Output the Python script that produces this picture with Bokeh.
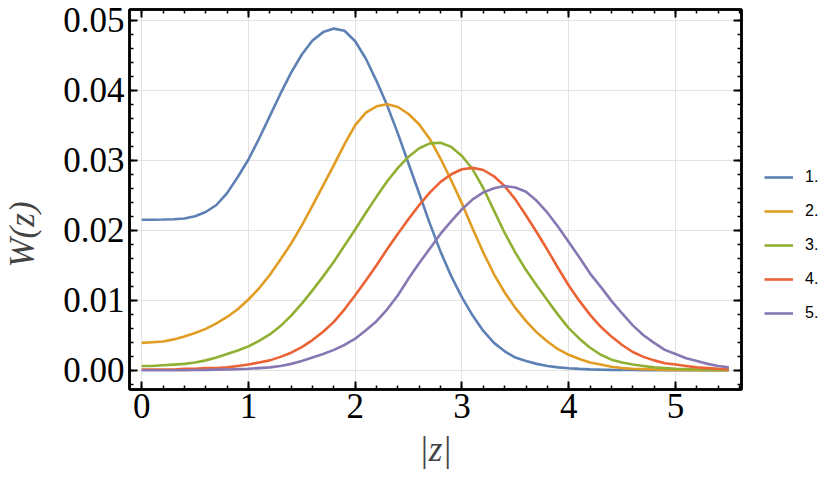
from bokeh.plotting import figure
from bokeh.models import Range1d, FixedTicker, LinearAxis, Legend, LegendItem, NumeralTickFormatter
from bokeh.layouts import row
from bokeh.embed import file_html
from bokeh.resources import INLINE

# sample positions |z| = 0.0 ... 5.5 (step 0.1)
z = [round(0.1 * i, 1) for i in range(56)]

w1 = [0.0215, 0.0215, 0.02152, 0.02157, 0.02168, 0.0220, 0.0226, 0.0236, 0.0253, 0.0276,
      0.0301, 0.0331, 0.0363, 0.0395, 0.0425, 0.0451, 0.0471, 0.0483, 0.0488, 0.0485,
      0.0470, 0.0445, 0.0413, 0.0378, 0.0338, 0.0295, 0.0252, 0.0209, 0.0169, 0.0134,
      0.0104, 0.0078, 0.0056, 0.0039, 0.0027, 0.0018, 0.0013, 0.0009, 0.0006, 0.0004,
      0.00028, 0.00019, 0.00012, 0.00008, 0.00005, 0.00003, 0.00002, 0.00001, 0.0, 0.0,
      0.0, 0.0, 0.0, 0.0, 0.0, 0.0]

w2 = [0.0039, 0.0040, 0.0041, 0.0044, 0.0048, 0.0053, 0.0059, 0.0067, 0.0076, 0.0087,
      0.0101, 0.0117, 0.0136, 0.0158, 0.0181, 0.0207, 0.0235, 0.0264, 0.0293, 0.0323,
      0.0350, 0.0368, 0.0377, 0.0380, 0.0376, 0.0366, 0.0351, 0.0330, 0.0302, 0.0271,
      0.0238, 0.0202, 0.0168, 0.0137, 0.0111, 0.0089, 0.0070, 0.0054, 0.0041, 0.0030,
      0.0022, 0.0016, 0.0011, 0.0008, 0.0005, 0.0003, 0.0002, 0.00015, 0.0001, 0.00005,
      0.00003, 0.00002, 0.00001, 0.0, 0.0, 0.0]

w3 = [0.0006, 0.0006, 0.0007, 0.0008, 0.0009, 0.0011, 0.0014, 0.0018, 0.0023, 0.0028,
      0.0034, 0.0042, 0.0051, 0.0063, 0.0078, 0.0095, 0.0114, 0.0134, 0.0155, 0.0178,
      0.0201, 0.0225, 0.0248, 0.0270, 0.0289, 0.0305, 0.0317, 0.0324, 0.0325, 0.0319,
      0.0306, 0.0287, 0.0260, 0.0228, 0.0196, 0.0168, 0.0143, 0.0121, 0.0100, 0.0079,
      0.0060, 0.0045, 0.0032, 0.0022, 0.0015, 0.0011, 0.0008, 0.0006, 0.0004, 0.0003,
      0.0002, 0.00015, 0.0001, 0.00007, 0.00005, 0.00003]

w4 = [0.0001, 0.0001, 0.0001, 0.0001, 0.0002, 0.0002, 0.0003, 0.0003, 0.0004, 0.0006,
      0.0008, 0.0011, 0.0014, 0.0019, 0.0025, 0.0033, 0.0043, 0.0055, 0.0069, 0.0087,
      0.0107, 0.0128, 0.0150, 0.0173, 0.0195, 0.0216, 0.0236, 0.0254, 0.0269, 0.0280,
      0.0287, 0.0289, 0.0286, 0.0277, 0.0263, 0.0244, 0.0221, 0.0197, 0.0172, 0.0146,
      0.0121, 0.0099, 0.0079, 0.0062, 0.0048, 0.0036, 0.0026, 0.0019, 0.0014, 0.0010,
      0.0008, 0.0006, 0.0004, 0.0003, 0.0002, 0.0001]

w5 = [0.0, 0.0, 0.0, 0.0, 0.0, 0.00003, 0.00005, 0.00008, 0.0001, 0.00015,
      0.0002, 0.0003, 0.0004, 0.0006, 0.0009, 0.0013, 0.0018, 0.0023, 0.0029, 0.0036,
      0.0045, 0.0057, 0.0070, 0.0087, 0.0107, 0.0131, 0.0153, 0.0174, 0.0195, 0.0213,
      0.0230, 0.0244, 0.0254, 0.0260, 0.0263, 0.0261, 0.0255, 0.0242, 0.0225, 0.0205,
      0.0183, 0.0161, 0.0138, 0.0119, 0.0099, 0.0081, 0.0064, 0.0050, 0.0039, 0.0029,
      0.0023, 0.0017, 0.0013, 0.0009, 0.0006, 0.0004]

series = [w1, w2, w3, w4, w5]
labels = ["1.", "2.", "3.", "4.", "5."]
colors = ["#5E81B5", "#E19C24", "#8FB032", "#EB6235", "#8778B3"]

x_major = [0, 1, 2, 3, 4, 5]
x_minor = [round(0.2 * i, 1) for i in range(29)]
y_major = [0.0, 0.01, 0.02, 0.03, 0.04, 0.05]
y_minor = [round(-0.002 + 0.002 * i, 3) for i in range(28)]

LW = 2.6

p = figure(width=750, height=491, output_backend="svg", toolbar_location=None,
           x_range=Range1d(-0.114, 5.618), y_range=Range1d(-0.00276, 0.05153),
           min_border_left=126, min_border_right=9, min_border_top=9, min_border_bottom=102)
p.background_fill_color = "white"
p.border_fill_color = "white"
p.outline_line_color = "black"
p.outline_line_width = 2.5

xt = FixedTicker(ticks=x_major, minor_ticks=x_minor)
yt = FixedTicker(ticks=y_major, minor_ticks=y_minor)

def style(ax, show_labels):
    ax.axis_line_color = "black"
    ax.axis_line_width = 2.5
    ax.major_tick_in = 8
    ax.major_tick_out = 0
    ax.minor_tick_in = 4
    ax.minor_tick_out = 0
    ax.major_tick_line_width = 2
    ax.minor_tick_line_width = 1.5
    ax.major_tick_line_color = "black"
    ax.minor_tick_line_color = "black"
    if show_labels:
        ax.major_label_text_font = "Liberation Serif"
        ax.major_label_text_font_size = "35px"
        ax.major_label_text_color = "black"
    else:
        ax.major_label_text_font_size = "1px"
        ax.major_label_text_color = None
        ax.major_label_standoff = 0

xb = p.below[0]
xb.ticker = xt
style(xb, True)
xb.major_label_standoff = 4
xb.axis_label = "|z|"
xb.axis_label_text_font = "Liberation Serif"
xb.axis_label_text_font_style = "italic"
xb.axis_label_text_font_size = "35px"
xb.axis_label_standoff = 9

yl = p.left[0]
yl.ticker = yt
yl.formatter = NumeralTickFormatter(format="0.00")
style(yl, True)
yl.major_label_standoff = 5
# trailing no-break spaces shift the rotated label down, as in the reference
yl.axis_label = "W(z)" + "\u00a0" * 8
yl.axis_label_text_font = "Liberation Serif"
yl.axis_label_text_font_style = "italic"
yl.axis_label_text_font_size = "35px"
yl.axis_label_standoff = 18

xtop = LinearAxis(ticker=xt)
style(xtop, False)
p.add_layout(xtop, "above")
yr = LinearAxis(ticker=yt)
style(yr, False)
p.add_layout(yr, "right")

p.xgrid.ticker = xt
p.ygrid.ticker = yt
p.xgrid.grid_line_color = "#e3e3e3"
p.ygrid.grid_line_color = "#e3e3e3"
p.xgrid.grid_line_width = 1
p.ygrid.grid_line_width = 1

for ys, col in zip(series, colors):
    p.line(z, ys, line_color=col, line_width=LW)

# legend panel to the right of the frame
lf = figure(width=80, height=491, output_backend="svg", toolbar_location=None,
            x_range=Range1d(0, 1), y_range=Range1d(0, 1),
            x_axis_location=None, y_axis_location=None, min_border=0)
lf.outline_line_color = None
lf.xgrid.visible = False
lf.ygrid.visible = False
lf.background_fill_color = "white"
lf.border_fill_color = "white"

nan = float("nan")
items = []
for lab, col in zip(labels, colors):
    r = lf.line([nan], [nan], line_color=col, line_width=LW)
    items.append(LegendItem(label=lab, renderers=[r]))

legend = Legend(items=items, location=(14, 66))
legend.background_fill_alpha = 0
legend.border_line_color = None
legend.padding = 0
legend.margin = 0
legend.spacing = 14
legend.glyph_width = 29
legend.glyph_height = 20
legend.label_height = 20
legend.label_standoff = 12
legend.label_text_font = "Liberation Sans"
legend.label_text_font_size = "16px"
legend.label_text_color = "black"
lf.add_layout(legend)

layout = row(p, lf)
open("out.html", "w").write(file_html(layout, INLINE))
